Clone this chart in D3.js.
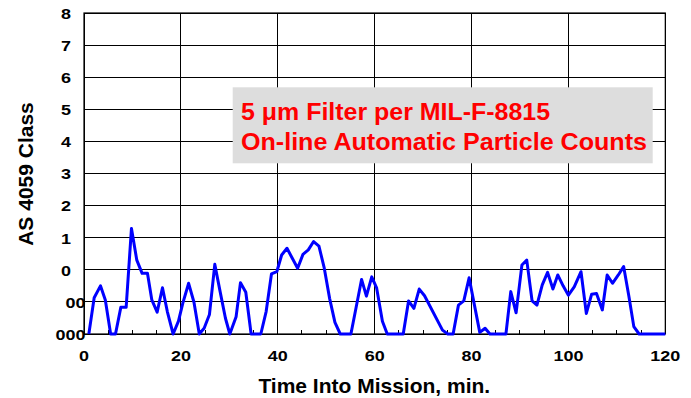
<!DOCTYPE html>
<html>
<head>
<meta charset="utf-8">
<script src="https://cdn.jsdelivr.net/npm/d3@7"></script>
<style>
  body { margin: 0; background: #fff; }
  text { font-family: Arial, "Liberation Sans", sans-serif; font-weight: bold; }
</style>
</head>
<body>
<svg id="chart"></svg>
<script>
// minutes into mission
const times = [1.0, 2.1, 3.4, 4.4, 5.5, 6.5, 7.6, 8.7, 9.8, 10.9,
  12.0, 13.1, 14.0, 15.1, 16.2, 17.2, 18.4, 19.5, 20.4, 21.6,
  22.7, 23.8, 24.8, 25.9, 27.0, 28.1, 29.2, 30.1, 31.4, 32.3,
  33.4, 34.5, 36.5, 37.6, 38.7, 39.8, 40.8, 41.9, 43.0, 44.1,
  45.2, 46.3, 47.4, 48.5, 49.6, 50.7, 51.8, 52.9, 55.1, 56.2,
  57.3, 58.3, 59.4, 60.4, 61.6, 62.6, 65.9, 67.0, 68.1, 69.2,
  70.3, 74.0, 75.1, 76.2, 77.3, 78.4, 79.5, 80.6, 81.7, 82.8,
  83.8, 87.1, 88.1, 89.2, 90.4, 91.4, 92.5, 93.5, 94.6, 95.7,
  96.8, 97.8, 98.9, 100.0, 101.2, 102.6, 103.7, 104.8, 105.8, 107.0,
  108.0, 109.1, 110.3, 111.4, 112.5, 113.5, 114.6, 120.0];

// class level as position on the axis (0 = "000", 1 = "00", 2 = "0", 3 = "1" ...)
const classLevel = [0, 1.13, 1.5, 1.06, 0, 0, 0.83, 0.83, 3.29, 2.3,
  1.89, 1.89, 1.06, 0.68, 1.44, 0.7, 0, 0.4, 0.96, 1.58,
  0.99, 0, 0.18, 0.61, 2.17, 1.32, 0.49, 0, 0.54, 1.6,
  1.3, 0, 0, 0.7, 1.87, 1.94, 2.46, 2.67, 2.36, 2.05,
  2.48, 2.62, 2.88, 2.74, 2.05, 1.11, 0.36, 0, 0, 0.85,
  1.7, 1.18, 1.78, 1.44, 0.4, 0, 0, 1.03, 0.8, 1.4,
  1.19, 0.12, 0, 0, 0.9, 1.03, 1.75, 0.9, 0.05, 0.18,
  0, 0, 1.32, 0.66, 2.15, 2.3, 1.03, 0.9, 1.53, 1.92,
  1.4, 1.84, 1.5, 1.21, 1.47, 1.94, 0.64, 1.24, 1.26, 0.75,
  1.84, 1.58, 1.84, 2.1, 1.16, 0.23, 0, 0];

const yTickLabels = ['000', '00', '0', '1', '2', '3', '4', '5', '6', '7', '8'];
const xTicks = [0, 20, 40, 60, 80, 100, 120];
const noteLines = ['5 \u03bcm Filter per MIL-F-8815', 'On-line Automatic Particle Counts'];

const width = 691, height = 398;
const plotL = 84, plotR = 665.3, plotT = 13, plotB = 334;
const stretch = 1.16; // labels in the original are drawn a bit wide

const svg = d3.select('#chart')
  .attr('width', width)
  .attr('height', height);

const x = d3.scaleLinear().domain([0, 120]).range([plotL, plotR]);
const y = d3.scaleLinear().domain([0, yTickLabels.length - 1]).range([plotB, plotT]);

// grid
const grid = svg.append('g')
  .attr('stroke', '#000')
  .attr('stroke-width', 1)
  .attr('shape-rendering', 'crispEdges');

grid.selectAll('.hgrid')
  .data(d3.range(yTickLabels.length))
  .enter().append('line')
    .attr('x1', plotL).attr('x2', plotR)
    .attr('y1', d => y(d)).attr('y2', d => y(d));

grid.selectAll('.vgrid')
  .data(xTicks)
  .enter().append('line')
    .attr('y1', plotT).attr('y2', plotB)
    .attr('x1', d => x(d)).attr('x2', d => x(d));

// minor ticks every 5 min, pointing inward
grid.selectAll('.minor')
  .data(d3.range(5, 120, 5).filter(d => d % 20 !== 0))
  .enter().append('line')
    .attr('x1', d => x(d)).attr('x2', d => x(d))
    .attr('y1', plotB).attr('y2', plotB - 4);

// note box
const box = svg.append('g');
box.append('rect')
  .attr('x', 232.7).attr('y', 87.3)
  .attr('width', 420).attr('height', 76)
  .attr('fill', '#dddddd');
box.selectAll('text')
  .data(noteLines)
  .enter().append('text')
    .attr('x', 241)
    .attr('y', (d, i) => 120.3 + i * 29.7)
    .attr('fill', '#ff0000')
    .attr('font-size', '23px')
    .attr('textLength', (d, i) => i === 0 ? 309 : 406)
    .attr('lengthAdjust', 'spacingAndGlyphs')
    .text(d => d);

// frame
svg.append('rect')
  .attr('x', plotL).attr('y', plotT)
  .attr('width', plotR - plotL).attr('height', plotB - plotT)
  .attr('fill', 'none')
  .attr('stroke', '#000')
  .attr('stroke-width', 1.2);

// series
const line = d3.line()
  .x((d, i) => x(times[i]))
  .y(d => y(d));

svg.append('path')
  .datum(classLevel)
  .attr('fill', 'none')
  .attr('stroke', '#0000ff')
  .attr('stroke-width', 3)
  .attr('stroke-linejoin', 'round')
  .attr('d', line);

// y labels
svg.selectAll('.ylab')
  .data(yTickLabels)
  .enter().append('text')
    .attr('transform', (d, i) =>
      `translate(${d.length === 1 ? 71 : 85.5}, ${y(i) + 5.8}) scale(${stretch}, 1)`)
    .attr('text-anchor', 'end')
    .attr('font-size', '15.5px')
    .attr('fill', '#000')
    .text(d => d);

// x labels
svg.selectAll('.xlab')
  .data(xTicks)
  .enter().append('text')
    .attr('transform', d => `translate(${x(d)}, 361) scale(${stretch}, 1)`)
    .attr('text-anchor', 'middle')
    .attr('font-size', '15.5px')
    .attr('fill', '#000')
    .text(d => d);

// axis titles
svg.append('text')
  .attr('x', 374.3)
  .attr('y', 393)
  .attr('text-anchor', 'middle')
  .attr('font-size', '21px')
  .text('Time Into Mission, min.');

svg.append('text')
  .attr('transform', `translate(32.5, 174) rotate(-90)`)
  .attr('text-anchor', 'middle')
  .attr('font-size', '21px')
  .text('AS 4059 Class');
</script>
</body>
</html>
